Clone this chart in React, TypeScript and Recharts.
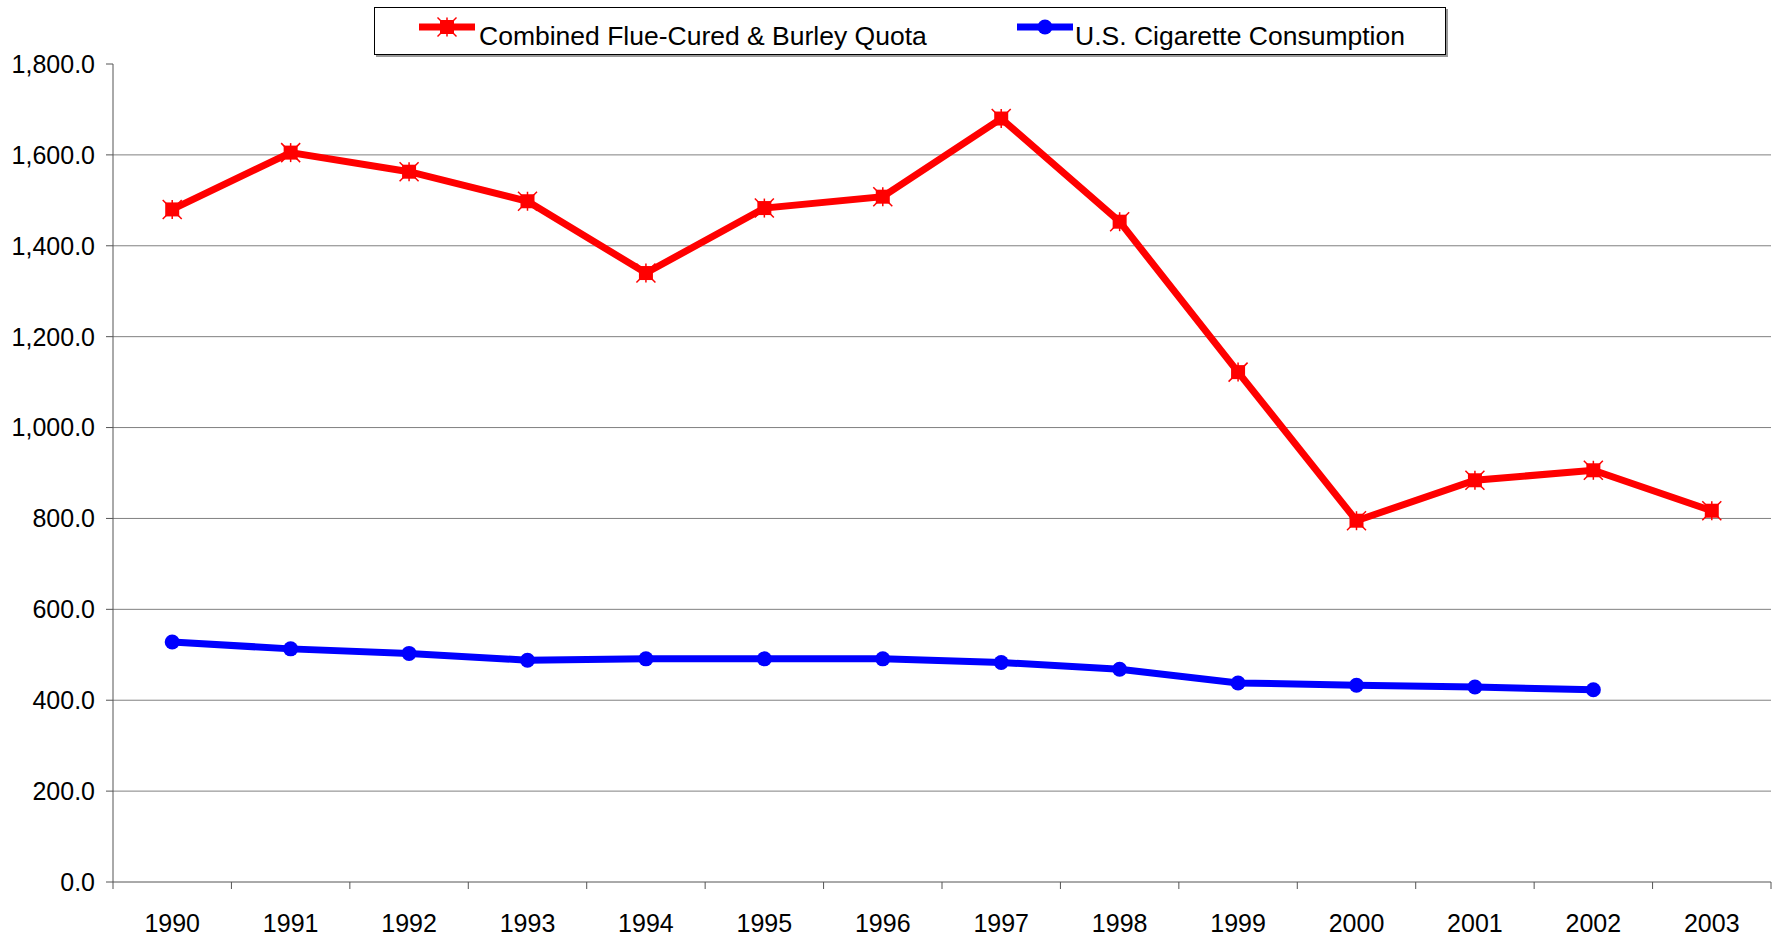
import React from 'react';
import { LineChart, Line, XAxis, YAxis, CartesianGrid } from 'recharts';

const years = ['1990', '1991', '1992', '1993', '1994', '1995', '1996', '1997', '1998', '1999', '2000', '2001', '2002', '2003'];
const quota = [1480, 1605, 1563, 1498, 1340, 1483, 1508, 1680, 1453, 1122, 795, 884, 906, 817];
const consumption = [528, 513, 503, 488, 491, 491, 491, 483, 468, 438, 433, 429, 423, null];
const yTicks = [0, 200, 400, 600, 800, 1000, 1200, 1400, 1600, 1800];
const gridValues = [200, 400, 600, 800, 1000, 1200, 1400, 1600];

const seriesNames = ['Combined Flue-Cured & Burley Quota', 'U.S. Cigarette Consumption'];

const data = years.map((y, i) => ({ year: y, quota: quota[i], consumption: consumption[i] }));

const W = 1782;
const H = 936;
const LEFT = 113;
const RIGHT = 11;
const TOP = 64;
const XH = 54;
const BAND = (W - LEFT - RIGHT) / years.length;
const FONT = '"Liberation Sans", Arial, sans-serif';

const StarSquare = (props: any) => {
  const { cx, cy } = props;
  if (cx == null || cy == null) return null;
  const s = 7;
  const e = 9.5;
  return (
    <g>
      <line x1={cx - e} y1={cy - e} x2={cx + e} y2={cy + e} stroke="#ff0000" strokeWidth={1.5} />
      <line x1={cx - e} y1={cy + e} x2={cx + e} y2={cy - e} stroke="#ff0000" strokeWidth={1.5} />
      <line x1={cx} y1={cy - e} x2={cx} y2={cy + e} stroke="#ff0000" strokeWidth={1.5} />
      <rect x={cx - s} y={cy - s} width={2 * s} height={2 * s} fill="#ff0000" />
    </g>
  );
};

const Circle = (props: any) => {
  const { cx, cy } = props;
  if (cx == null || cy == null) return null;
  return <circle cx={cx} cy={cy} r={7.5} fill="#0000ff" />;
};

const XTick = (props: any) => {
  const { x, y, payload, index } = props;
  const last = index === years.length - 1;
  return (
    <g>
      <line x1={x - BAND / 2} y1={y} x2={x - BAND / 2} y2={y + 7} stroke="#555" strokeWidth={1} />
      {last && <line x1={x + BAND / 2} y1={y} x2={x + BAND / 2} y2={y + 7} stroke="#555" strokeWidth={1} />}
      <text x={x} y={y + 49.5} textAnchor="middle" fontSize={25} fontFamily={FONT} fill="#000">
        {payload.value}
      </text>
    </g>
  );
};

const fmt = (v: number) => v.toLocaleString('en-US', { minimumFractionDigits: 1, maximumFractionDigits: 1 });

export default function App() {
  return (
    <div style={{ position: 'absolute', left: 0, top: 0, width: W, height: H, background: '#fff' }}>
      <LineChart
        width={W}
        height={H}
        data={data}
        margin={{ top: TOP, right: RIGHT, bottom: 0, left: 0 }}
      >
        <CartesianGrid vertical={false} horizontalValues={gridValues} stroke="#808080" strokeWidth={1} />
        <XAxis
          dataKey="year"
          height={XH}
          tickLine={false}
          tickSize={0}
          tickMargin={0}
          padding={{ left: BAND / 2, right: BAND / 2 }}
          axisLine={{ stroke: '#555', strokeWidth: 1 }}
          tick={<XTick />}
          interval={0}
        />
        <YAxis
          width={LEFT}
          domain={[0, 1800]}
          ticks={yTicks}
          tickFormatter={fmt}
          tickSize={7}
          tickMargin={11}
          axisLine={{ stroke: '#555', strokeWidth: 1 }}
          tickLine={{ stroke: '#555', strokeWidth: 1 }}
          tick={{ fontSize: 25, fontFamily: FONT, fill: '#000' }}
          interval={0}
        />
        <Line
          type="linear"
          dataKey="quota"
          name={seriesNames[0]}
          stroke="#ff0000"
          strokeWidth={7}
          dot={<StarSquare />}
          activeDot={false}
          isAnimationActive={false}
        />
        <Line
          type="linear"
          dataKey="consumption"
          name={seriesNames[1]}
          stroke="#0000ff"
          strokeWidth={7}
          dot={<Circle />}
          activeDot={false}
          connectNulls={false}
          isAnimationActive={false}
        />
      </LineChart>
      <div
        style={{
          position: 'absolute',
          left: 374,
          top: 7,
          width: 1070,
          height: 46,
          border: '1px solid #000',
          boxShadow: '2px 2px 0 #999',
          background: '#fff',
          fontFamily: FONT,
          fontSize: 26.5,
          color: '#000',
        }}
      >
        <svg style={{ position: 'absolute', left: 417 - 375, top: 7 }} width={60} height={30}>
          <line x1={2} y1={12} x2={58} y2={12} stroke="#ff0000" strokeWidth={7} />
          <StarSquare cx={30} cy={12} />
        </svg>
        <span style={{ position: 'absolute', left: 479 - 375, top: 13, whiteSpace: 'nowrap', lineHeight: '30px' }}>
          {seriesNames[0]}
        </span>
        <svg style={{ position: 'absolute', left: 1015 - 375, top: 7 }} width={60} height={30}>
          <line x1={2} y1={12} x2={58} y2={12} stroke="#0000ff" strokeWidth={7} />
          <Circle cx={30} cy={12} />
        </svg>
        <span style={{ position: 'absolute', left: 1075 - 375, top: 13, whiteSpace: 'nowrap', lineHeight: '30px' }}>
          {seriesNames[1]}
        </span>
      </div>
    </div>
  );
}
